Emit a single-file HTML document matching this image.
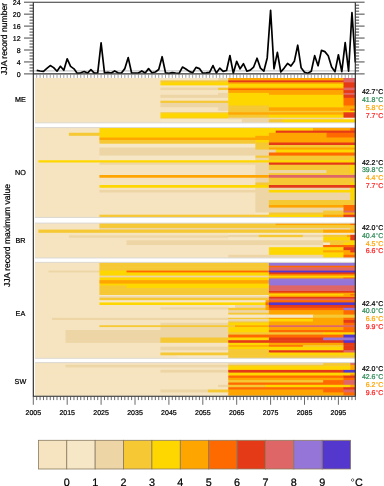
<!DOCTYPE html><html><head><meta charset="utf-8"><style>html,body{margin:0;padding:0;background:#fff;width:384px;height:486px;overflow:hidden}svg{display:block;will-change:transform}text{font-family:"Liberation Sans",sans-serif;text-rendering:geometricPrecision;stroke:#000;stroke-width:0.22px}</style></head><body>
<svg width="384" height="486" viewBox="0 0 384 486">
<rect x="34.99" y="78" width="320.31" height="44.85" fill="#F5E4BF"/>
<rect x="34.99" y="78" width="183.66" height="3" fill="#F5E4BF"/>
<rect x="218.06" y="78" width="10.77" height="3" fill="#EDD5A6"/>
<rect x="228.23" y="78" width="115.86" height="3" fill="#FFA500"/>
<rect x="343.49" y="78" width="11.81" height="3" fill="#DF6666"/>
<rect x="34.99" y="80.4" width="126.03" height="2.5" fill="#F5E4BF"/>
<rect x="160.43" y="80.4" width="68.4" height="2.5" fill="#F5C834"/>
<rect x="228.23" y="80.4" width="115.86" height="2.5" fill="#E53A18"/>
<rect x="343.49" y="80.4" width="11.81" height="2.5" fill="#DF6666"/>
<rect x="34.99" y="82.3" width="126.03" height="2.1" fill="#F5E4BF"/>
<rect x="160.43" y="82.3" width="68.4" height="2.1" fill="#FFD700"/>
<rect x="228.23" y="82.3" width="115.86" height="2.1" fill="#FFA500"/>
<rect x="343.49" y="82.3" width="11.81" height="2.1" fill="#E53A18"/>
<rect x="34.99" y="83.8" width="126.03" height="2.2" fill="#F5E4BF"/>
<rect x="160.43" y="83.8" width="183.66" height="2.2" fill="#FFD700"/>
<rect x="343.49" y="83.8" width="11.81" height="2.2" fill="#E53A18"/>
<rect x="34.99" y="85.4" width="193.83" height="2.8" fill="#F5E4BF"/>
<rect x="228.23" y="85.4" width="115.86" height="2.8" fill="#FFD700"/>
<rect x="343.49" y="85.4" width="11.81" height="2.8" fill="#E53A18"/>
<rect x="34.99" y="87.6" width="126.03" height="1.6" fill="#F5E4BF"/>
<rect x="160.43" y="87.6" width="58.23" height="1.6" fill="#EDD5A6"/>
<rect x="218.06" y="87.6" width="10.77" height="1.6" fill="#F5C834"/>
<rect x="228.23" y="87.6" width="115.86" height="1.6" fill="#FFA500"/>
<rect x="343.49" y="87.6" width="11.81" height="1.6" fill="#DF6666"/>
<rect x="34.99" y="88.6" width="126.03" height="2.1" fill="#F5E4BF"/>
<rect x="160.43" y="88.6" width="58.23" height="2.1" fill="#EDD5A6"/>
<rect x="218.06" y="88.6" width="10.77" height="2.1" fill="#F5C834"/>
<rect x="228.23" y="88.6" width="115.86" height="2.1" fill="#FF6A00"/>
<rect x="343.49" y="88.6" width="11.81" height="2.1" fill="#DF6666"/>
<rect x="34.99" y="90.1" width="193.83" height="3.4" fill="#F5E4BF"/>
<rect x="228.23" y="90.1" width="115.86" height="3.4" fill="#FFA500"/>
<rect x="343.49" y="90.1" width="11.81" height="3.4" fill="#E53A18"/>
<rect x="34.99" y="92.9" width="183.66" height="2.5" fill="#F5E4BF"/>
<rect x="218.06" y="92.9" width="10.77" height="2.5" fill="#EDD5A6"/>
<rect x="228.23" y="92.9" width="41.28" height="2.5" fill="#FFD700"/>
<rect x="268.91" y="92.9" width="75.18" height="2.5" fill="#FFA500"/>
<rect x="343.49" y="92.9" width="11.81" height="2.5" fill="#DF6666"/>
<rect x="34.99" y="94.8" width="126.03" height="3.6" fill="#F5E4BF"/>
<rect x="160.43" y="94.8" width="68.4" height="3.6" fill="#EDD5A6"/>
<rect x="228.23" y="94.8" width="115.86" height="3.6" fill="#FFD700"/>
<rect x="343.49" y="94.8" width="11.81" height="3.6" fill="#E53A18"/>
<rect x="34.99" y="97.8" width="193.83" height="3.5" fill="#F5E4BF"/>
<rect x="228.23" y="97.8" width="115.86" height="3.5" fill="#FFD700"/>
<rect x="343.49" y="97.8" width="11.81" height="3.5" fill="#FF6A00"/>
<rect x="34.99" y="100.7" width="126.03" height="2.8" fill="#F5E4BF"/>
<rect x="160.43" y="100.7" width="68.4" height="2.8" fill="#F5C834"/>
<rect x="228.23" y="100.7" width="115.86" height="2.8" fill="#FFD700"/>
<rect x="343.49" y="100.7" width="11.81" height="2.8" fill="#FF6A00"/>
<rect x="34.99" y="102.9" width="126.03" height="3.2" fill="#F5E4BF"/>
<rect x="160.43" y="102.9" width="68.4" height="3.2" fill="#EDD5A6"/>
<rect x="228.23" y="102.9" width="115.86" height="3.2" fill="#FFD700"/>
<rect x="343.49" y="102.9" width="11.81" height="3.2" fill="#FF6A00"/>
<rect x="34.99" y="105.5" width="126.03" height="2.4" fill="#F5E4BF"/>
<rect x="160.43" y="105.5" width="68.4" height="2.4" fill="#EDD5A6"/>
<rect x="228.23" y="105.5" width="41.28" height="2.4" fill="#F5C834"/>
<rect x="268.91" y="105.5" width="75.18" height="2.4" fill="#FFD700"/>
<rect x="343.49" y="105.5" width="11.81" height="2.4" fill="#FFA500"/>
<rect x="34.99" y="107.3" width="183.66" height="2.1" fill="#F5E4BF"/>
<rect x="218.06" y="107.3" width="10.77" height="2.1" fill="#EDD5A6"/>
<rect x="228.23" y="107.3" width="41.28" height="2.1" fill="#F5C834"/>
<rect x="268.91" y="107.3" width="86.39" height="2.1" fill="#FFA500"/>
<rect x="34.99" y="108.8" width="183.66" height="2.6" fill="#F5E4BF"/>
<rect x="218.06" y="108.8" width="10.77" height="2.6" fill="#EDD5A6"/>
<rect x="228.23" y="108.8" width="41.28" height="2.6" fill="#F5C834"/>
<rect x="268.91" y="108.8" width="81.96" height="2.6" fill="#FFA500"/>
<rect x="350.27" y="108.8" width="5.03" height="2.6" fill="#FF6A00"/>
<rect x="34.99" y="110.8" width="193.83" height="2.1" fill="#F5E4BF"/>
<rect x="228.23" y="110.8" width="115.86" height="2.1" fill="#F5C834"/>
<rect x="343.49" y="110.8" width="11.81" height="2.1" fill="#FFD700"/>
<rect x="34.99" y="112.3" width="126.03" height="1.6" fill="#F5E4BF"/>
<rect x="160.43" y="112.3" width="68.4" height="1.6" fill="#F5C834"/>
<rect x="228.23" y="112.3" width="115.86" height="1.6" fill="#FFA500"/>
<rect x="343.49" y="112.3" width="11.81" height="1.6" fill="#E53A18"/>
<rect x="34.99" y="113.3" width="126.03" height="1.9" fill="#F5E4BF"/>
<rect x="160.43" y="113.3" width="68.4" height="1.9" fill="#FFD700"/>
<rect x="228.23" y="113.3" width="115.86" height="1.9" fill="#FFA500"/>
<rect x="343.49" y="113.3" width="11.81" height="1.9" fill="#E53A18"/>
<rect x="34.99" y="114.6" width="126.03" height="3.7" fill="#F5E4BF"/>
<rect x="160.43" y="114.6" width="68.4" height="3.7" fill="#FFD700"/>
<rect x="228.23" y="114.6" width="41.28" height="3.7" fill="#F5C834"/>
<rect x="268.91" y="114.6" width="75.18" height="3.7" fill="#FFD700"/>
<rect x="343.49" y="114.6" width="11.81" height="3.7" fill="#E53A18"/>
<rect x="34.99" y="117.7" width="126.03" height="1.4" fill="#F5E4BF"/>
<rect x="160.43" y="117.7" width="68.4" height="1.4" fill="#F5C834"/>
<rect x="228.23" y="117.7" width="115.86" height="1.4" fill="#EDD5A6"/>
<rect x="343.49" y="117.7" width="11.81" height="1.4" fill="#F6E8C7"/>
<rect x="34.99" y="118.5" width="193.83" height="1.4" fill="#F5E4BF"/>
<rect x="228.23" y="118.5" width="115.86" height="1.4" fill="#EDD5A6"/>
<rect x="343.49" y="118.5" width="11.81" height="1.4" fill="#F6E8C7"/>
<rect x="34.99" y="119.3" width="126.03" height="3.55" fill="#F5E4BF"/>
<rect x="160.43" y="119.3" width="81.96" height="3.55" fill="#F6E8C7"/>
<rect x="241.79" y="119.3" width="27.72" height="3.55" fill="#EDD5A6"/>
<rect x="268.91" y="119.3" width="14.16" height="3.55" fill="#F5C834"/>
<rect x="282.47" y="119.3" width="72.83" height="3.55" fill="#FFD700"/>
<rect x="34.99" y="127.55" width="320.31" height="89.9" fill="#F5E4BF"/>
<rect x="34.99" y="127.55" width="65.01" height="3.65" fill="#F5E4BF"/>
<rect x="99.41" y="127.55" width="214.17" height="3.65" fill="#FFD700"/>
<rect x="312.98" y="127.55" width="37.89" height="3.65" fill="#FFA500"/>
<rect x="350.27" y="127.55" width="5.03" height="3.65" fill="#FF6A00"/>
<rect x="34.99" y="130.6" width="65.01" height="2.75" fill="#F5E4BF"/>
<rect x="99.41" y="130.6" width="176.88" height="2.75" fill="#FFD700"/>
<rect x="275.69" y="130.6" width="79.62" height="2.75" fill="#E53A18"/>
<rect x="34.99" y="132.75" width="34.5" height="3.65" fill="#F5E4BF"/>
<rect x="68.89" y="132.75" width="31.11" height="3.65" fill="#F5C834"/>
<rect x="99.41" y="132.75" width="170.1" height="3.65" fill="#FFD700"/>
<rect x="268.91" y="132.75" width="58.23" height="3.65" fill="#FFA500"/>
<rect x="326.54" y="132.75" width="28.76" height="3.65" fill="#FF6A00"/>
<rect x="34.99" y="135.8" width="65.01" height="2.3" fill="#F5E4BF"/>
<rect x="99.41" y="135.8" width="156.54" height="2.3" fill="#FFD700"/>
<rect x="255.35" y="135.8" width="71.79" height="2.3" fill="#FFA500"/>
<rect x="326.54" y="135.8" width="28.76" height="2.3" fill="#FF6A00"/>
<rect x="34.99" y="137.5" width="65.01" height="3.1" fill="#F5E4BF"/>
<rect x="99.41" y="137.5" width="255.9" height="3.1" fill="#FFA500"/>
<rect x="34.99" y="140" width="65.01" height="3.1" fill="#F5E4BF"/>
<rect x="99.41" y="140" width="156.54" height="3.1" fill="#F5C834"/>
<rect x="255.35" y="140" width="14.16" height="3.1" fill="#FFD700"/>
<rect x="268.91" y="140" width="86.39" height="3.1" fill="#FFA500"/>
<rect x="34.99" y="142.5" width="65.01" height="1.8" fill="#F5E4BF"/>
<rect x="99.41" y="142.5" width="170.1" height="1.8" fill="#F5C834"/>
<rect x="268.91" y="142.5" width="86.39" height="1.8" fill="#E53A18"/>
<rect x="34.99" y="143.7" width="65.01" height="1.9" fill="#F5E4BF"/>
<rect x="99.41" y="143.7" width="156.54" height="1.9" fill="#F6E8C7"/>
<rect x="255.35" y="143.7" width="14.16" height="1.9" fill="#F5C834"/>
<rect x="268.91" y="143.7" width="86.39" height="1.9" fill="#E53A18"/>
<rect x="34.99" y="145" width="65.01" height="3.1" fill="#F5E4BF"/>
<rect x="99.41" y="145" width="156.54" height="3.1" fill="#F6E8C7"/>
<rect x="255.35" y="145" width="95.52" height="3.1" fill="#F5C834"/>
<rect x="350.27" y="145" width="5.03" height="3.1" fill="#FFD700"/>
<rect x="34.99" y="147.5" width="65.01" height="2.7" fill="#F5E4BF"/>
<rect x="99.41" y="147.5" width="156.54" height="2.7" fill="#EDD5A6"/>
<rect x="255.35" y="147.5" width="14.16" height="2.7" fill="#F5C834"/>
<rect x="268.91" y="147.5" width="86.39" height="2.7" fill="#FFA500"/>
<rect x="34.99" y="149.6" width="65.01" height="3.5" fill="#F5E4BF"/>
<rect x="99.41" y="149.6" width="176.88" height="3.5" fill="#EDD5A6"/>
<rect x="275.69" y="149.6" width="79.62" height="3.5" fill="#FFD700"/>
<rect x="34.99" y="152.5" width="65.01" height="3.7" fill="#F5E4BF"/>
<rect x="99.41" y="152.5" width="170.1" height="3.7" fill="#EDD5A6"/>
<rect x="268.91" y="152.5" width="86.39" height="3.7" fill="#FF6A00"/>
<rect x="34.99" y="155.6" width="65.01" height="2.75" fill="#F5E4BF"/>
<rect x="99.41" y="155.6" width="156.54" height="2.75" fill="#F6E8C7"/>
<rect x="255.35" y="155.6" width="99.95" height="2.75" fill="#F5C834"/>
<rect x="34.99" y="157.75" width="65.01" height="3.1" fill="#F5E4BF"/>
<rect x="99.41" y="157.75" width="156.54" height="3.1" fill="#F6E8C7"/>
<rect x="255.35" y="157.75" width="14.16" height="3.1" fill="#EDD5A6"/>
<rect x="268.91" y="157.75" width="81.96" height="3.1" fill="#F5C834"/>
<rect x="350.27" y="157.75" width="5.03" height="3.1" fill="#FFD700"/>
<rect x="34.99" y="160.25" width="3.99" height="2.85" fill="#F5E4BF"/>
<rect x="38.38" y="160.25" width="316.92" height="2.85" fill="#FFD700"/>
<rect x="34.99" y="162.5" width="65.01" height="2.85" fill="#F5E4BF"/>
<rect x="99.41" y="162.5" width="170.1" height="2.85" fill="#EDD5A6"/>
<rect x="268.91" y="162.5" width="86.39" height="2.85" fill="#E53A18"/>
<rect x="34.99" y="164.75" width="220.95" height="5.85" fill="#F5E4BF"/>
<rect x="255.35" y="164.75" width="14.16" height="5.85" fill="#EDD5A6"/>
<rect x="268.91" y="164.75" width="81.96" height="5.85" fill="#F5C834"/>
<rect x="350.27" y="164.75" width="5.03" height="5.85" fill="#FFD700"/>
<rect x="34.99" y="170" width="220.95" height="3.7" fill="#F5E4BF"/>
<rect x="255.35" y="170" width="71.79" height="3.7" fill="#EDD5A6"/>
<rect x="326.54" y="170" width="24.33" height="3.7" fill="#F5C834"/>
<rect x="350.27" y="170" width="5.03" height="3.7" fill="#FFD700"/>
<rect x="34.99" y="173.1" width="220.95" height="2.5" fill="#F5E4BF"/>
<rect x="255.35" y="173.1" width="14.16" height="2.5" fill="#EDD5A6"/>
<rect x="268.91" y="173.1" width="86.39" height="2.5" fill="#F5C834"/>
<rect x="34.99" y="175" width="65.01" height="3.35" fill="#F5E4BF"/>
<rect x="99.41" y="175" width="170.1" height="3.35" fill="#FFA500"/>
<rect x="268.91" y="175" width="86.39" height="3.35" fill="#DF6666"/>
<rect x="34.99" y="177.75" width="220.95" height="5.35" fill="#F5E4BF"/>
<rect x="255.35" y="177.75" width="14.16" height="5.35" fill="#EDD5A6"/>
<rect x="268.91" y="177.75" width="86.39" height="5.35" fill="#F5C834"/>
<rect x="34.99" y="182.5" width="220.95" height="3.1" fill="#F5E4BF"/>
<rect x="255.35" y="182.5" width="95.52" height="3.1" fill="#F5C834"/>
<rect x="350.27" y="182.5" width="5.03" height="3.1" fill="#FFD700"/>
<rect x="34.99" y="185" width="65.01" height="3.35" fill="#F5E4BF"/>
<rect x="99.41" y="185" width="170.1" height="3.35" fill="#FFD700"/>
<rect x="268.91" y="185" width="86.39" height="3.35" fill="#E53A18"/>
<rect x="34.99" y="187.75" width="220.95" height="2.85" fill="#F5E4BF"/>
<rect x="255.35" y="187.75" width="95.52" height="2.85" fill="#EDD5A6"/>
<rect x="350.27" y="187.75" width="5.03" height="2.85" fill="#FFD700"/>
<rect x="34.99" y="190" width="65.01" height="3.1" fill="#F5E4BF"/>
<rect x="99.41" y="190" width="170.1" height="3.1" fill="#EDD5A6"/>
<rect x="268.91" y="190" width="86.39" height="3.1" fill="#FFD700"/>
<rect x="34.99" y="192.5" width="220.95" height="8.1" fill="#F5E4BF"/>
<rect x="255.35" y="192.5" width="95.52" height="8.1" fill="#EDD5A6"/>
<rect x="350.27" y="192.5" width="5.03" height="8.1" fill="#FFD700"/>
<rect x="34.99" y="200" width="220.95" height="5.6" fill="#F5E4BF"/>
<rect x="255.35" y="200" width="14.16" height="5.6" fill="#EDD5A6"/>
<rect x="268.91" y="200" width="86.39" height="5.6" fill="#F5C834"/>
<rect x="34.99" y="205" width="220.95" height="3.2" fill="#F5E4BF"/>
<rect x="255.35" y="205" width="14.16" height="3.2" fill="#EDD5A6"/>
<rect x="268.91" y="205" width="75.18" height="3.2" fill="#FFA500"/>
<rect x="343.49" y="205" width="11.81" height="3.2" fill="#FF6A00"/>
<rect x="34.99" y="207.6" width="220.95" height="3.6" fill="#F5E4BF"/>
<rect x="255.35" y="207.6" width="88.74" height="3.6" fill="#EDD5A6"/>
<rect x="343.49" y="207.6" width="11.81" height="3.6" fill="#FF6A00"/>
<rect x="34.99" y="210.6" width="220.95" height="2.5" fill="#F5E4BF"/>
<rect x="255.35" y="210.6" width="68.4" height="2.5" fill="#EDD5A6"/>
<rect x="323.15" y="210.6" width="20.94" height="2.5" fill="#F5C834"/>
<rect x="343.49" y="210.6" width="11.81" height="2.5" fill="#DF6666"/>
<rect x="34.99" y="212.5" width="220.95" height="2.8" fill="#F5E4BF"/>
<rect x="255.35" y="212.5" width="14.16" height="2.8" fill="#F6E8C7"/>
<rect x="268.91" y="212.5" width="75.18" height="2.8" fill="#F5C834"/>
<rect x="343.49" y="212.5" width="11.81" height="2.8" fill="#FFA500"/>
<rect x="34.99" y="214.7" width="65.01" height="2.75" fill="#F5E4BF"/>
<rect x="99.41" y="214.7" width="170.1" height="2.75" fill="#F5C834"/>
<rect x="268.91" y="214.7" width="54.84" height="2.75" fill="#FFD700"/>
<rect x="323.15" y="214.7" width="20.94" height="2.75" fill="#FFA500"/>
<rect x="343.49" y="214.7" width="11.81" height="2.75" fill="#E53A18"/>
<rect x="34.99" y="223.1" width="320.31" height="34.85" fill="#F5E4BF"/>
<rect x="34.99" y="223.1" width="65.01" height="2.6" fill="#F5E4BF"/>
<rect x="99.41" y="223.1" width="176.88" height="2.6" fill="#F5C834"/>
<rect x="275.69" y="223.1" width="75.18" height="2.6" fill="#FFA500"/>
<rect x="350.27" y="223.1" width="5.03" height="2.6" fill="#FF6A00"/>
<rect x="34.99" y="225.1" width="65.01" height="3.4" fill="#F5E4BF"/>
<rect x="99.41" y="225.1" width="255.9" height="3.4" fill="#F5C834"/>
<rect x="34.99" y="227.9" width="65.01" height="2.3" fill="#F5E4BF"/>
<rect x="99.41" y="227.9" width="251.46" height="2.3" fill="#EDD5A6"/>
<rect x="350.27" y="227.9" width="5.03" height="2.3" fill="#F5C834"/>
<rect x="34.99" y="229.6" width="3.99" height="3.8" fill="#F5E4BF"/>
<rect x="38.38" y="229.6" width="285.36" height="3.8" fill="#F5C834"/>
<rect x="323.15" y="229.6" width="32.15" height="3.8" fill="#FFA500"/>
<rect x="34.99" y="232.8" width="193.83" height="2.6" fill="#F5E4BF"/>
<rect x="228.23" y="232.8" width="127.07" height="2.6" fill="#F6E8C7"/>
<rect x="34.99" y="234.8" width="193.83" height="1.2" fill="#F5E4BF"/>
<rect x="228.23" y="234.8" width="31.11" height="1.2" fill="#EDD5A6"/>
<rect x="258.74" y="234.8" width="44.67" height="1.2" fill="#F5C834"/>
<rect x="302.81" y="234.8" width="20.94" height="1.2" fill="#EDD5A6"/>
<rect x="323.15" y="234.8" width="24.33" height="1.2" fill="#F5C834"/>
<rect x="346.88" y="234.8" width="3.99" height="1.2" fill="#FFA500"/>
<rect x="350.27" y="234.8" width="5.03" height="1.2" fill="#E53A18"/>
<rect x="34.99" y="235.4" width="34.5" height="2.5" fill="#F5E4BF"/>
<rect x="68.89" y="235.4" width="190.44" height="2.5" fill="#EDD5A6"/>
<rect x="258.74" y="235.4" width="44.67" height="2.5" fill="#F5C834"/>
<rect x="302.81" y="235.4" width="20.94" height="2.5" fill="#EDD5A6"/>
<rect x="323.15" y="235.4" width="24.33" height="2.5" fill="#F5C834"/>
<rect x="346.88" y="235.4" width="3.99" height="2.5" fill="#FFA500"/>
<rect x="350.27" y="235.4" width="5.03" height="2.5" fill="#E53A18"/>
<rect x="34.99" y="237.3" width="34.5" height="1" fill="#F5E4BF"/>
<rect x="68.89" y="237.3" width="159.93" height="1" fill="#EDD5A6"/>
<rect x="228.23" y="237.3" width="95.52" height="1" fill="#F6E8C7"/>
<rect x="323.15" y="237.3" width="27.72" height="1" fill="#FFD700"/>
<rect x="350.27" y="237.3" width="5.03" height="1" fill="#E53A18"/>
<rect x="34.99" y="237.7" width="193.83" height="3.2" fill="#F5E4BF"/>
<rect x="228.23" y="237.7" width="95.52" height="3.2" fill="#F6E8C7"/>
<rect x="323.15" y="237.7" width="27.72" height="3.2" fill="#FFD700"/>
<rect x="350.27" y="237.7" width="5.03" height="3.2" fill="#E53A18"/>
<rect x="34.99" y="240.3" width="92.13" height="2.8" fill="#F5E4BF"/>
<rect x="126.53" y="240.3" width="197.22" height="2.8" fill="#EDD5A6"/>
<rect x="323.15" y="240.3" width="27.72" height="2.8" fill="#F5C834"/>
<rect x="350.27" y="240.3" width="5.03" height="2.8" fill="#FFD700"/>
<rect x="34.99" y="242.5" width="92.13" height="3.1" fill="#F5E4BF"/>
<rect x="126.53" y="242.5" width="197.22" height="3.1" fill="#EDD5A6"/>
<rect x="323.15" y="242.5" width="7.38" height="3.1" fill="#F6E8C7"/>
<rect x="329.93" y="242.5" width="14.16" height="3.1" fill="#F5C834"/>
<rect x="343.49" y="242.5" width="11.81" height="3.1" fill="#FFD700"/>
<rect x="34.99" y="245" width="288.75" height="2.8" fill="#F5E4BF"/>
<rect x="323.15" y="245" width="32.15" height="2.8" fill="#FF6A00"/>
<rect x="34.99" y="247.2" width="234.51" height="3.6" fill="#F5E4BF"/>
<rect x="268.91" y="247.2" width="75.18" height="3.6" fill="#FFD700"/>
<rect x="343.49" y="247.2" width="11.81" height="3.6" fill="#E53A18"/>
<rect x="34.99" y="250.2" width="234.51" height="2.8" fill="#F5E4BF"/>
<rect x="268.91" y="250.2" width="54.84" height="2.8" fill="#FFD700"/>
<rect x="323.15" y="250.2" width="27.72" height="2.8" fill="#FFA500"/>
<rect x="350.27" y="250.2" width="5.03" height="2.8" fill="#E53A18"/>
<rect x="34.99" y="252.4" width="234.51" height="3" fill="#F5E4BF"/>
<rect x="268.91" y="252.4" width="75.18" height="3" fill="#FFD700"/>
<rect x="343.49" y="252.4" width="11.81" height="3" fill="#FFA500"/>
<rect x="34.99" y="254.8" width="193.83" height="3.15" fill="#F5E4BF"/>
<rect x="228.23" y="254.8" width="95.52" height="3.15" fill="#EDD5A6"/>
<rect x="323.15" y="254.8" width="20.94" height="3.15" fill="#FFD700"/>
<rect x="343.49" y="254.8" width="11.81" height="3.15" fill="#FF6A00"/>
<rect x="34.99" y="262.35" width="320.31" height="95.95" fill="#F5E4BF"/>
<rect x="34.99" y="262.35" width="65.01" height="3.95" fill="#F5E4BF"/>
<rect x="99.41" y="262.35" width="170.1" height="3.95" fill="#F5C834"/>
<rect x="268.91" y="262.35" width="86.39" height="3.95" fill="#9575D8"/>
<rect x="34.99" y="265.7" width="65.01" height="2.2" fill="#F5E4BF"/>
<rect x="99.41" y="265.7" width="170.1" height="2.2" fill="#F5C834"/>
<rect x="268.91" y="265.7" width="86.39" height="2.2" fill="#FF6A00"/>
<rect x="34.99" y="267.3" width="65.01" height="3.9" fill="#F5E4BF"/>
<rect x="99.41" y="267.3" width="170.1" height="3.9" fill="#F5C834"/>
<rect x="268.91" y="267.3" width="86.39" height="3.9" fill="#DF6666"/>
<rect x="34.99" y="270.6" width="14.16" height="2.4" fill="#F5E4BF"/>
<rect x="48.55" y="270.6" width="51.45" height="2.4" fill="#EDD5A6"/>
<rect x="99.41" y="270.6" width="27.72" height="2.4" fill="#FFD700"/>
<rect x="126.53" y="270.6" width="142.98" height="2.4" fill="#FF6A00"/>
<rect x="268.91" y="270.6" width="86.39" height="2.4" fill="#5438CE"/>
<rect x="34.99" y="272.4" width="65.01" height="2.1" fill="#F5E4BF"/>
<rect x="99.41" y="272.4" width="170.1" height="2.1" fill="#FFD700"/>
<rect x="268.91" y="272.4" width="86.39" height="2.1" fill="#E53A18"/>
<rect x="34.99" y="273.9" width="65.01" height="1.4" fill="#F5E4BF"/>
<rect x="99.41" y="273.9" width="170.1" height="1.4" fill="#FFD700"/>
<rect x="268.91" y="273.9" width="86.39" height="1.4" fill="#FF6A00"/>
<rect x="34.99" y="274.7" width="65.01" height="1.5" fill="#F5E4BF"/>
<rect x="99.41" y="274.7" width="170.1" height="1.5" fill="#FFD700"/>
<rect x="268.91" y="274.7" width="86.39" height="1.5" fill="#FFA500"/>
<rect x="34.99" y="275.6" width="65.01" height="1" fill="#F5E4BF"/>
<rect x="99.41" y="275.6" width="170.1" height="1" fill="#EDD5A6"/>
<rect x="268.91" y="275.6" width="86.39" height="1" fill="#FFA500"/>
<rect x="34.99" y="276" width="65.01" height="2" fill="#F5E4BF"/>
<rect x="99.41" y="276" width="170.1" height="2" fill="#EDD5A6"/>
<rect x="268.91" y="276" width="86.39" height="2" fill="#FFD700"/>
<rect x="34.99" y="277.4" width="65.01" height="1.7" fill="#F5E4BF"/>
<rect x="99.41" y="277.4" width="170.1" height="1.7" fill="#FFD700"/>
<rect x="268.91" y="277.4" width="75.18" height="1.7" fill="#FFA500"/>
<rect x="343.49" y="277.4" width="11.81" height="1.7" fill="#FF6A00"/>
<rect x="34.99" y="278.5" width="65.01" height="2.2" fill="#F5E4BF"/>
<rect x="99.41" y="278.5" width="170.1" height="2.2" fill="#FFD700"/>
<rect x="268.91" y="278.5" width="86.39" height="2.2" fill="#9575D8"/>
<rect x="34.99" y="280.1" width="65.01" height="4.1" fill="#F5E4BF"/>
<rect x="99.41" y="280.1" width="170.1" height="4.1" fill="#FFA500"/>
<rect x="268.91" y="280.1" width="86.39" height="4.1" fill="#9575D8"/>
<rect x="34.99" y="283.6" width="65.01" height="2.4" fill="#F5E4BF"/>
<rect x="99.41" y="283.6" width="170.1" height="2.4" fill="#FFD700"/>
<rect x="268.91" y="283.6" width="86.39" height="2.4" fill="#9575D8"/>
<rect x="34.99" y="285.4" width="65.01" height="3.1" fill="#F5E4BF"/>
<rect x="99.41" y="285.4" width="27.72" height="3.1" fill="#F5C834"/>
<rect x="126.53" y="285.4" width="142.98" height="3.1" fill="#FFD700"/>
<rect x="268.91" y="285.4" width="86.39" height="3.1" fill="#DF6666"/>
<rect x="34.99" y="287.9" width="65.01" height="3.7" fill="#F5E4BF"/>
<rect x="99.41" y="287.9" width="170.1" height="3.7" fill="#F5C834"/>
<rect x="268.91" y="287.9" width="86.39" height="3.7" fill="#DF6666"/>
<rect x="34.99" y="291" width="65.01" height="2.3" fill="#F5E4BF"/>
<rect x="99.41" y="291" width="170.1" height="2.3" fill="#F5C834"/>
<rect x="268.91" y="291" width="86.39" height="2.3" fill="#E53A18"/>
<rect x="34.99" y="292.7" width="65.01" height="2" fill="#F5E4BF"/>
<rect x="99.41" y="292.7" width="170.1" height="2" fill="#F5C834"/>
<rect x="268.91" y="292.7" width="86.39" height="2" fill="#FFA500"/>
<rect x="34.99" y="294.1" width="65.01" height="1.5" fill="#F5E4BF"/>
<rect x="99.41" y="294.1" width="170.1" height="1.5" fill="#F5C834"/>
<rect x="268.91" y="294.1" width="75.18" height="1.5" fill="#FFD700"/>
<rect x="343.49" y="294.1" width="7.38" height="1.5" fill="#FFA500"/>
<rect x="350.27" y="294.1" width="5.03" height="1.5" fill="#FF6A00"/>
<rect x="34.99" y="295" width="65.01" height="1.1" fill="#F5E4BF"/>
<rect x="99.41" y="295" width="170.1" height="1.1" fill="#F6E8C7"/>
<rect x="268.91" y="295" width="75.18" height="1.1" fill="#FFD700"/>
<rect x="343.49" y="295" width="7.38" height="1.1" fill="#FFA500"/>
<rect x="350.27" y="295" width="5.03" height="1.1" fill="#FF6A00"/>
<rect x="34.99" y="295.5" width="65.01" height="1.5" fill="#F5E4BF"/>
<rect x="99.41" y="295.5" width="170.1" height="1.5" fill="#F6E8C7"/>
<rect x="268.91" y="295.5" width="86.39" height="1.5" fill="#FFA500"/>
<rect x="34.99" y="296.4" width="65.01" height="1.1" fill="#F5E4BF"/>
<rect x="99.41" y="296.4" width="170.1" height="1.1" fill="#EDD5A6"/>
<rect x="268.91" y="296.4" width="86.39" height="1.1" fill="#FFA500"/>
<rect x="34.99" y="296.9" width="65.01" height="1.5" fill="#F5E4BF"/>
<rect x="99.41" y="296.9" width="170.1" height="1.5" fill="#EDD5A6"/>
<rect x="268.91" y="296.9" width="86.39" height="1.5" fill="#E53A18"/>
<rect x="34.99" y="297.8" width="65.01" height="1.3" fill="#F5E4BF"/>
<rect x="99.41" y="297.8" width="170.1" height="1.3" fill="#F5C834"/>
<rect x="268.91" y="297.8" width="86.39" height="1.3" fill="#E53A18"/>
<rect x="34.99" y="298.5" width="65.01" height="2.3" fill="#F5E4BF"/>
<rect x="99.41" y="298.5" width="170.1" height="2.3" fill="#F5C834"/>
<rect x="268.91" y="298.5" width="86.39" height="2.3" fill="#DF6666"/>
<rect x="34.99" y="300.2" width="65.01" height="2.8" fill="#F5E4BF"/>
<rect x="99.41" y="300.2" width="166.71" height="2.8" fill="#F6E8C7"/>
<rect x="265.51" y="300.2" width="3.99" height="2.8" fill="#FFA500"/>
<rect x="268.91" y="300.2" width="86.39" height="2.8" fill="#FF6A00"/>
<rect x="34.99" y="302.4" width="65.01" height="3.2" fill="#F5E4BF"/>
<rect x="99.41" y="302.4" width="166.71" height="3.2" fill="#FFD700"/>
<rect x="265.51" y="302.4" width="3.99" height="3.2" fill="#FF6A00"/>
<rect x="268.91" y="302.4" width="86.39" height="3.2" fill="#5438CE"/>
<rect x="34.99" y="305" width="193.83" height="1.8" fill="#F5E4BF"/>
<rect x="228.23" y="305" width="7.38" height="1.8" fill="#F6E8C7"/>
<rect x="235" y="305" width="31.11" height="1.8" fill="#EDD5A6"/>
<rect x="265.51" y="305" width="3.99" height="1.8" fill="#FFA500"/>
<rect x="268.91" y="305" width="86.39" height="1.8" fill="#E53A18"/>
<rect x="34.99" y="306.2" width="193.83" height="1.9" fill="#F5E4BF"/>
<rect x="228.23" y="306.2" width="7.38" height="1.9" fill="#F6E8C7"/>
<rect x="235" y="306.2" width="31.11" height="1.9" fill="#EDD5A6"/>
<rect x="265.51" y="306.2" width="3.99" height="1.9" fill="#FFA500"/>
<rect x="268.91" y="306.2" width="86.39" height="1.9" fill="#E53A18"/>
<rect x="34.99" y="307.5" width="126.03" height="0.85" fill="#F5E4BF"/>
<rect x="160.43" y="307.5" width="68.4" height="0.85" fill="#EDD5A6"/>
<rect x="228.23" y="307.5" width="7.38" height="0.85" fill="#F6E8C7"/>
<rect x="235" y="307.5" width="31.11" height="0.85" fill="#EDD5A6"/>
<rect x="265.51" y="307.5" width="3.99" height="0.85" fill="#FFA500"/>
<rect x="268.91" y="307.5" width="86.39" height="0.85" fill="#E53A18"/>
<rect x="34.99" y="307.75" width="126.03" height="2.35" fill="#F5E4BF"/>
<rect x="160.43" y="307.75" width="68.4" height="2.35" fill="#EDD5A6"/>
<rect x="228.23" y="307.75" width="37.89" height="2.35" fill="#F5C834"/>
<rect x="265.51" y="307.75" width="3.99" height="2.35" fill="#FFA500"/>
<rect x="268.91" y="307.75" width="75.18" height="2.35" fill="#FF6A00"/>
<rect x="343.49" y="307.75" width="11.81" height="2.35" fill="#9575D8"/>
<rect x="34.99" y="309.5" width="193.83" height="1.3" fill="#F5E4BF"/>
<rect x="228.23" y="309.5" width="37.89" height="1.3" fill="#F5C834"/>
<rect x="265.51" y="309.5" width="3.99" height="1.3" fill="#FFA500"/>
<rect x="268.91" y="309.5" width="75.18" height="1.3" fill="#FF6A00"/>
<rect x="343.49" y="309.5" width="11.81" height="1.3" fill="#9575D8"/>
<rect x="34.99" y="310.2" width="193.83" height="3.15" fill="#F5E4BF"/>
<rect x="228.23" y="310.2" width="41.28" height="3.15" fill="#EDD5A6"/>
<rect x="268.91" y="310.2" width="75.18" height="3.15" fill="#FFA500"/>
<rect x="343.49" y="310.2" width="11.81" height="3.15" fill="#FF6A00"/>
<rect x="34.99" y="312.75" width="193.83" height="2.45" fill="#F5E4BF"/>
<rect x="228.23" y="312.75" width="41.28" height="2.45" fill="#F5C834"/>
<rect x="268.91" y="312.75" width="75.18" height="2.45" fill="#FFA500"/>
<rect x="343.49" y="312.75" width="11.81" height="2.45" fill="#FF6A00"/>
<rect x="34.99" y="314.6" width="193.83" height="3.75" fill="#F5E4BF"/>
<rect x="228.23" y="314.6" width="37.89" height="3.75" fill="#F6E8C7"/>
<rect x="265.51" y="314.6" width="3.99" height="3.75" fill="#F5E4BF"/>
<rect x="268.91" y="314.6" width="44.67" height="3.75" fill="#F6E8C7"/>
<rect x="312.98" y="314.6" width="42.32" height="3.75" fill="#F5C834"/>
<rect x="34.99" y="317.75" width="17.55" height="1.85" fill="#F5E4BF"/>
<rect x="51.94" y="317.75" width="176.88" height="1.85" fill="#EDD5A6"/>
<rect x="228.23" y="317.75" width="41.28" height="1.85" fill="#F5C834"/>
<rect x="268.91" y="317.75" width="75.18" height="1.85" fill="#FFA500"/>
<rect x="343.49" y="317.75" width="11.81" height="1.85" fill="#FF6A00"/>
<rect x="34.99" y="319" width="17.55" height="1.6" fill="#F5E4BF"/>
<rect x="51.94" y="319" width="217.56" height="1.6" fill="#EDD5A6"/>
<rect x="268.91" y="319" width="44.67" height="1.6" fill="#FFD700"/>
<rect x="312.98" y="319" width="31.11" height="1.6" fill="#FFA500"/>
<rect x="343.49" y="319" width="11.81" height="1.6" fill="#FF6A00"/>
<rect x="34.99" y="320" width="193.83" height="2.1" fill="#F5E4BF"/>
<rect x="228.23" y="320" width="41.28" height="2.1" fill="#EDD5A6"/>
<rect x="268.91" y="320" width="44.67" height="2.1" fill="#FFD700"/>
<rect x="312.98" y="320" width="31.11" height="2.1" fill="#FFA500"/>
<rect x="343.49" y="320" width="11.81" height="2.1" fill="#E53A18"/>
<rect x="34.99" y="321.5" width="193.83" height="1.85" fill="#F5E4BF"/>
<rect x="228.23" y="321.5" width="41.28" height="1.85" fill="#F5C834"/>
<rect x="268.91" y="321.5" width="75.18" height="1.85" fill="#FFA500"/>
<rect x="343.49" y="321.5" width="11.81" height="1.85" fill="#E53A18"/>
<rect x="34.99" y="322.75" width="126.03" height="3.1" fill="#F5E4BF"/>
<rect x="160.43" y="322.75" width="68.4" height="3.1" fill="#EDD5A6"/>
<rect x="228.23" y="322.75" width="41.28" height="3.1" fill="#FFD700"/>
<rect x="268.91" y="322.75" width="75.18" height="3.1" fill="#FFA500"/>
<rect x="343.49" y="322.75" width="11.81" height="3.1" fill="#FF6A00"/>
<rect x="34.99" y="325.25" width="65.01" height="2.45" fill="#F5E4BF"/>
<rect x="99.41" y="325.25" width="136.2" height="2.45" fill="#F5C834"/>
<rect x="235" y="325.25" width="34.5" height="2.45" fill="#FFA500"/>
<rect x="268.91" y="325.25" width="86.39" height="2.45" fill="#DF6666"/>
<rect x="34.99" y="327.1" width="126.03" height="3.5" fill="#F5E4BF"/>
<rect x="160.43" y="327.1" width="68.4" height="3.5" fill="#EDD5A6"/>
<rect x="228.23" y="327.1" width="41.28" height="3.5" fill="#FFD700"/>
<rect x="268.91" y="327.1" width="75.18" height="3.5" fill="#FFA500"/>
<rect x="343.49" y="327.1" width="11.81" height="3.5" fill="#FF6A00"/>
<rect x="34.99" y="330" width="31.11" height="2.9" fill="#F5E4BF"/>
<rect x="65.5" y="330" width="163.32" height="2.9" fill="#EDD5A6"/>
<rect x="228.23" y="330" width="41.28" height="2.9" fill="#FFD700"/>
<rect x="268.91" y="330" width="86.39" height="2.9" fill="#FF6A00"/>
<rect x="34.99" y="332.3" width="31.11" height="2.9" fill="#F5E4BF"/>
<rect x="65.5" y="332.3" width="163.32" height="2.9" fill="#EDD5A6"/>
<rect x="228.23" y="332.3" width="95.52" height="2.9" fill="#F5C834"/>
<rect x="323.15" y="332.3" width="32.15" height="2.9" fill="#FFD700"/>
<rect x="34.99" y="334.6" width="31.11" height="3.5" fill="#F5E4BF"/>
<rect x="65.5" y="334.6" width="163.32" height="3.5" fill="#EDD5A6"/>
<rect x="228.23" y="334.6" width="115.86" height="3.5" fill="#FF6A00"/>
<rect x="343.49" y="334.6" width="11.81" height="3.5" fill="#5438CE"/>
<rect x="34.99" y="337.5" width="31.11" height="3.3" fill="#F5E4BF"/>
<rect x="65.5" y="337.5" width="95.52" height="3.3" fill="#EDD5A6"/>
<rect x="160.43" y="337.5" width="68.4" height="3.3" fill="#F5C834"/>
<rect x="228.23" y="337.5" width="41.28" height="3.3" fill="#FFD700"/>
<rect x="268.91" y="337.5" width="54.84" height="3.3" fill="#E53A18"/>
<rect x="323.15" y="337.5" width="32.15" height="3.3" fill="#9575D8"/>
<rect x="34.99" y="340.2" width="31.11" height="3.2" fill="#F5E4BF"/>
<rect x="65.5" y="340.2" width="95.52" height="3.2" fill="#EDD5A6"/>
<rect x="160.43" y="340.2" width="68.4" height="3.2" fill="#F5C834"/>
<rect x="228.23" y="340.2" width="115.86" height="3.2" fill="#E53A18"/>
<rect x="343.49" y="340.2" width="11.81" height="3.2" fill="#5438CE"/>
<rect x="34.99" y="342.8" width="193.83" height="3" fill="#F5E4BF"/>
<rect x="228.23" y="342.8" width="41.28" height="3" fill="#FFD700"/>
<rect x="268.91" y="342.8" width="75.18" height="3" fill="#FFA500"/>
<rect x="343.49" y="342.8" width="11.81" height="3" fill="#E53A18"/>
<rect x="34.99" y="345.2" width="193.83" height="2.1" fill="#F5E4BF"/>
<rect x="228.23" y="345.2" width="41.28" height="2.1" fill="#FFA500"/>
<rect x="268.91" y="345.2" width="34.5" height="2.1" fill="#FF6A00"/>
<rect x="302.81" y="345.2" width="41.28" height="2.1" fill="#F5C834"/>
<rect x="343.49" y="345.2" width="11.81" height="2.1" fill="#E53A18"/>
<rect x="34.99" y="346.7" width="126.03" height="2.9" fill="#F5E4BF"/>
<rect x="160.43" y="346.7" width="68.4" height="2.9" fill="#EDD5A6"/>
<rect x="228.23" y="346.7" width="115.86" height="2.9" fill="#FFD700"/>
<rect x="343.49" y="346.7" width="11.81" height="2.9" fill="#E53A18"/>
<rect x="34.99" y="349" width="126.03" height="1.85" fill="#F5E4BF"/>
<rect x="160.43" y="349" width="68.4" height="1.85" fill="#EDD5A6"/>
<rect x="228.23" y="349" width="41.28" height="1.85" fill="#F5C834"/>
<rect x="268.91" y="349" width="75.18" height="1.85" fill="#FFD700"/>
<rect x="343.49" y="349" width="11.81" height="1.85" fill="#E53A18"/>
<rect x="34.99" y="350.25" width="193.83" height="2.85" fill="#F5E4BF"/>
<rect x="228.23" y="350.25" width="41.28" height="2.85" fill="#F5C834"/>
<rect x="268.91" y="350.25" width="75.18" height="2.85" fill="#E53A18"/>
<rect x="343.49" y="350.25" width="11.81" height="2.85" fill="#DF6666"/>
<rect x="34.99" y="352.5" width="126.03" height="3.4" fill="#F5E4BF"/>
<rect x="160.43" y="352.5" width="109.08" height="3.4" fill="#F5C834"/>
<rect x="268.91" y="352.5" width="86.39" height="3.4" fill="#FFD700"/>
<rect x="34.99" y="355.3" width="142.98" height="3" fill="#F5E4BF"/>
<rect x="177.38" y="355.3" width="51.45" height="3" fill="#F6E8C7"/>
<rect x="228.23" y="355.3" width="127.07" height="3" fill="#F5C834"/>
<rect x="34.99" y="362.6" width="320.31" height="33" fill="#F5E4BF"/>
<rect x="34.99" y="362.6" width="193.83" height="2.8" fill="#F5E4BF"/>
<rect x="228.23" y="362.6" width="95.52" height="2.8" fill="#EDD5A6"/>
<rect x="323.15" y="362.6" width="27.72" height="2.8" fill="#F5C834"/>
<rect x="350.27" y="362.6" width="5.03" height="2.8" fill="#DF6666"/>
<rect x="34.99" y="364.8" width="31.11" height="2" fill="#F5E4BF"/>
<rect x="65.5" y="364.8" width="163.32" height="2" fill="#EDD5A6"/>
<rect x="228.23" y="364.8" width="122.64" height="2" fill="#F5C834"/>
<rect x="350.27" y="364.8" width="5.03" height="2" fill="#FFA500"/>
<rect x="34.99" y="366.2" width="31.11" height="1.8" fill="#F5E4BF"/>
<rect x="65.5" y="366.2" width="163.32" height="1.8" fill="#EDD5A6"/>
<rect x="228.23" y="366.2" width="122.64" height="1.8" fill="#FFD700"/>
<rect x="350.27" y="366.2" width="5.03" height="1.8" fill="#FFA500"/>
<rect x="34.99" y="367.4" width="193.83" height="3.1" fill="#F5E4BF"/>
<rect x="228.23" y="367.4" width="122.64" height="3.1" fill="#FFD700"/>
<rect x="350.27" y="367.4" width="5.03" height="3.1" fill="#FFA500"/>
<rect x="34.99" y="369.9" width="126.03" height="3.3" fill="#F5E4BF"/>
<rect x="160.43" y="369.9" width="68.4" height="3.3" fill="#EDD5A6"/>
<rect x="228.23" y="369.9" width="115.86" height="3.3" fill="#E53A18"/>
<rect x="343.49" y="369.9" width="11.81" height="3.3" fill="#5438CE"/>
<rect x="34.99" y="372.6" width="193.83" height="1.6" fill="#F5E4BF"/>
<rect x="228.23" y="372.6" width="127.07" height="1.6" fill="#FFD700"/>
<rect x="34.99" y="373.6" width="193.83" height="2.5" fill="#F5E4BF"/>
<rect x="228.23" y="373.6" width="122.64" height="2.5" fill="#FFD700"/>
<rect x="350.27" y="373.6" width="5.03" height="2.5" fill="#FFA500"/>
<rect x="34.99" y="375.5" width="193.83" height="2.9" fill="#F5E4BF"/>
<rect x="228.23" y="375.5" width="115.86" height="2.9" fill="#FF6A00"/>
<rect x="343.49" y="375.5" width="11.81" height="2.9" fill="#E53A18"/>
<rect x="34.99" y="377.8" width="193.83" height="2.9" fill="#F5E4BF"/>
<rect x="228.23" y="377.8" width="115.86" height="2.9" fill="#FFA500"/>
<rect x="343.49" y="377.8" width="11.81" height="2.9" fill="#FF6A00"/>
<rect x="34.99" y="380.1" width="193.83" height="3" fill="#F5E4BF"/>
<rect x="228.23" y="380.1" width="95.52" height="3" fill="#F5C834"/>
<rect x="323.15" y="380.1" width="20.94" height="3" fill="#FF6A00"/>
<rect x="343.49" y="380.1" width="11.81" height="3" fill="#DF6666"/>
<rect x="34.99" y="382.5" width="193.83" height="2.9" fill="#F5E4BF"/>
<rect x="228.23" y="382.5" width="115.86" height="2.9" fill="#FF6A00"/>
<rect x="343.49" y="382.5" width="11.81" height="2.9" fill="#DF6666"/>
<rect x="34.99" y="384.8" width="183.66" height="3" fill="#F5E4BF"/>
<rect x="218.06" y="384.8" width="10.77" height="3" fill="#EDD5A6"/>
<rect x="228.23" y="384.8" width="37.89" height="3" fill="#F5C834"/>
<rect x="265.51" y="384.8" width="85.35" height="3" fill="#FFD700"/>
<rect x="350.27" y="384.8" width="5.03" height="3" fill="#FFA500"/>
<rect x="34.99" y="387.2" width="193.83" height="2.9" fill="#F5E4BF"/>
<rect x="228.23" y="387.2" width="115.86" height="2.9" fill="#FF6A00"/>
<rect x="343.49" y="387.2" width="11.81" height="2.9" fill="#E53A18"/>
<rect x="34.99" y="389.5" width="126.03" height="3.5" fill="#F5E4BF"/>
<rect x="160.43" y="389.5" width="48.06" height="3.5" fill="#EDD5A6"/>
<rect x="207.88" y="389.5" width="20.94" height="3.5" fill="#F5C834"/>
<rect x="228.23" y="389.5" width="95.52" height="3.5" fill="#FFA500"/>
<rect x="323.15" y="389.5" width="20.94" height="3.5" fill="#FF6A00"/>
<rect x="343.49" y="389.5" width="11.81" height="3.5" fill="#DF6666"/>
<rect x="34.99" y="392.4" width="193.83" height="3.2" fill="#F5E4BF"/>
<rect x="228.23" y="392.4" width="115.86" height="3.2" fill="#FFA500"/>
<rect x="343.49" y="392.4" width="11.81" height="3.2" fill="#FF6A00"/>
<rect x="34.99" y="122.35" width="320.31" height="1" fill="#dcdad4"/>
<rect x="34.99" y="127.05" width="320.31" height="1" fill="#dcdad4"/>
<rect x="34.99" y="216.95" width="320.31" height="1" fill="#dcdad4"/>
<rect x="34.99" y="222.6" width="320.31" height="1" fill="#dcdad4"/>
<rect x="34.99" y="257.45" width="320.31" height="1" fill="#dcdad4"/>
<rect x="34.99" y="261.85" width="320.31" height="1" fill="#dcdad4"/>
<rect x="34.99" y="357.8" width="320.31" height="1" fill="#dcdad4"/>
<rect x="34.99" y="362.1" width="320.31" height="1" fill="#dcdad4"/>
<line x1="33.3" y1="70.91" x2="355.3" y2="70.91" stroke="#c8c8c8" stroke-width="1.3"/>
<polyline points="36.69,70.32 40.08,71 43.47,71.39 46.86,68.4 50.25,65.59 53.64,67.63 57.03,71.21 60.42,66.31 63.81,70.32 67.2,58.81 70.59,66.43 73.98,68.82 77.37,73.39 80.76,72.79 84.15,71.51 87.54,73.09 90.93,69.6 94.32,73.09 97.71,72.79 101.1,42.83 104.49,72.79 107.88,72.32 111.27,73 114.66,70.91 118.05,72.79 121.44,73 124.83,68.61 128.22,57.62 131.61,73 135,73 138.39,73 141.78,70.91 145.17,73 148.56,68.61 151.95,72.79 155.34,72.02 158.73,69.51 162.12,56.72 165.51,72.79 168.9,73.45 172.29,72.62 175.68,73 179.07,73.3 182.46,67.03 185.85,69.03 189.24,71.39 192.63,72.79 196.02,67.42 199.41,68.61 202.8,73.15 206.19,72.79 209.58,72.32 212.97,65.54 216.36,73 219.75,68.13 223.14,71.39 226.53,70.49 229.92,55.53 233.31,73.3 236.7,61.35 240.09,68.82 243.48,63.74 246.87,71.21 250.26,70.11 253.65,67.03 257.04,58.22 260.43,68.1 263.82,71.21 267.21,57.92 270.6,10.27 273.99,68.82 277.38,52.39 280.77,71.99 284.16,68.1 287.55,63.44 290.94,66.01 294.33,61.35 297.72,45.22 301.11,67.63 304.5,72.29 307.89,73.21 311.28,71.21 314.67,55.68 318.06,65.71 321.45,50.42 324.84,51.64 328.23,55.68 331.62,67.03 335.01,71.69 338.4,54.78 341.79,71.69 345.18,42.53 348.57,71.21 351.96,12.66 355.35,62.55" fill="none" stroke="#000" stroke-width="1.7" stroke-linejoin="round"/>
<path d="M33.3 2.2H355.3M33.3 73.9H355.3" stroke="#333" stroke-width="1.1" fill="none"/>
<line x1="33.3" y1="2.2" x2="33.3" y2="396.85" stroke="#222" stroke-width="1.1"/>
<line x1="355.3" y1="2.2" x2="355.3" y2="396.85" stroke="#222" stroke-width="1.1"/>
<path d="M24 73.9H33.3M355.3 73.9H364.6M29.5 70.91H33.3M355.3 70.91H359.1M29.5 67.93H33.3M355.3 67.93H359.1M29.5 64.94H33.3M355.3 64.94H359.1M24 61.95H33.3M355.3 61.95H364.6M29.5 58.96H33.3M355.3 58.96H359.1M29.5 55.98H33.3M355.3 55.98H359.1M29.5 52.99H33.3M355.3 52.99H359.1M24 50H33.3M355.3 50H364.6M29.5 47.01H33.3M355.3 47.01H359.1M29.5 44.03H33.3M355.3 44.03H359.1M29.5 41.04H33.3M355.3 41.04H359.1M24 38.05H33.3M355.3 38.05H364.6M29.5 35.06H33.3M355.3 35.06H359.1M29.5 32.08H33.3M355.3 32.08H359.1M29.5 29.09H33.3M355.3 29.09H359.1M24 26.1H33.3M355.3 26.1H364.6M29.5 23.11H33.3M355.3 23.11H359.1M29.5 20.13H33.3M355.3 20.13H359.1M29.5 17.14H33.3M355.3 17.14H359.1M24 14.15H33.3M355.3 14.15H364.6M29.5 11.16H33.3M355.3 11.16H359.1M29.5 8.18H33.3M355.3 8.18H359.1M29.5 5.19H33.3M355.3 5.19H359.1M24 2.2H33.3M355.3 2.2H364.6" stroke="#333" stroke-width="0.9" fill="none"/>
<text x="20.6" y="76.9" font-size="7" text-anchor="end">0</text>
<text x="20.6" y="64.95" font-size="7" text-anchor="end">4</text>
<text x="20.6" y="53" font-size="7" text-anchor="end">8</text>
<text x="20.6" y="41.05" font-size="7" text-anchor="end">12</text>
<text x="20.6" y="29.1" font-size="7" text-anchor="end">16</text>
<text x="20.6" y="17.15" font-size="7" text-anchor="end">20</text>
<text x="20.6" y="5.2" font-size="7" text-anchor="end">24</text>
<path d="M36.69 74.4V77.9M40.08 74.4V77.9M43.47 74.4V77.9M46.86 74.4V77.9M50.25 74.4V77.9M53.64 74.4V77.9M57.03 74.4V77.9M60.42 74.4V77.9M63.81 74.4V77.9M67.2 74.4V77.9M70.59 74.4V77.9M73.98 74.4V77.9M77.37 74.4V77.9M80.76 74.4V77.9M84.15 74.4V77.9M87.54 74.4V77.9M90.93 74.4V77.9M94.32 74.4V77.9M97.71 74.4V77.9M101.1 74.4V77.9M104.49 74.4V77.9M107.88 74.4V77.9M111.27 74.4V77.9M114.66 74.4V77.9M118.05 74.4V77.9M121.44 74.4V77.9M124.83 74.4V77.9M128.22 74.4V77.9M131.61 74.4V77.9M135 74.4V77.9M138.39 74.4V77.9M141.78 74.4V77.9M145.17 74.4V77.9M148.56 74.4V77.9M151.95 74.4V77.9M155.34 74.4V77.9M158.73 74.4V77.9M162.12 74.4V77.9M165.51 74.4V77.9M168.9 74.4V77.9M172.29 74.4V77.9M175.68 74.4V77.9M179.07 74.4V77.9M182.46 74.4V77.9M185.85 74.4V77.9M189.24 74.4V77.9M192.63 74.4V77.9M196.02 74.4V77.9M199.41 74.4V77.9M202.8 74.4V77.9M206.19 74.4V77.9M209.58 74.4V77.9M212.97 74.4V77.9M216.36 74.4V77.9M219.75 74.4V77.9M223.14 74.4V77.9M226.53 74.4V77.9M229.92 74.4V77.9M233.31 74.4V77.9M236.7 74.4V77.9M240.09 74.4V77.9M243.48 74.4V77.9M246.87 74.4V77.9M250.26 74.4V77.9M253.65 74.4V77.9M257.04 74.4V77.9M260.43 74.4V77.9M263.82 74.4V77.9M267.21 74.4V77.9M270.6 74.4V77.9M273.99 74.4V77.9M277.38 74.4V77.9M280.77 74.4V77.9M284.16 74.4V77.9M287.55 74.4V77.9M290.94 74.4V77.9M294.33 74.4V77.9M297.72 74.4V77.9M301.11 74.4V77.9M304.5 74.4V77.9M307.89 74.4V77.9M311.28 74.4V77.9M314.67 74.4V77.9M318.06 74.4V77.9M321.45 74.4V77.9M324.84 74.4V77.9M328.23 74.4V77.9M331.62 74.4V77.9M335.01 74.4V77.9M338.4 74.4V77.9M341.79 74.4V77.9M345.18 74.4V77.9M348.57 74.4V77.9M351.96 74.4V77.9" stroke="#777" stroke-width="0.7" fill="none"/>
<line x1="33.3" y1="396.3" x2="355.3" y2="396.3" stroke="#222" stroke-width="1.1"/>
<path d="M33.3 396.3V404.8M36.69 396.3V400.1M40.08 396.3V400.1M43.47 396.3V400.1M46.86 396.3V400.1M50.25 396.3V400.1M53.64 396.3V400.1M57.03 396.3V400.1M60.42 396.3V400.1M63.81 396.3V400.1M67.2 396.3V404.8M70.59 396.3V400.1M73.98 396.3V400.1M77.37 396.3V400.1M80.76 396.3V400.1M84.15 396.3V400.1M87.54 396.3V400.1M90.93 396.3V400.1M94.32 396.3V400.1M97.71 396.3V400.1M101.1 396.3V404.8M104.49 396.3V400.1M107.88 396.3V400.1M111.27 396.3V400.1M114.66 396.3V400.1M118.05 396.3V400.1M121.44 396.3V400.1M124.83 396.3V400.1M128.22 396.3V400.1M131.61 396.3V400.1M135 396.3V404.8M138.39 396.3V400.1M141.78 396.3V400.1M145.17 396.3V400.1M148.56 396.3V400.1M151.95 396.3V400.1M155.34 396.3V400.1M158.73 396.3V400.1M162.12 396.3V400.1M165.51 396.3V400.1M168.9 396.3V404.8M172.29 396.3V400.1M175.68 396.3V400.1M179.07 396.3V400.1M182.46 396.3V400.1M185.85 396.3V400.1M189.24 396.3V400.1M192.63 396.3V400.1M196.02 396.3V400.1M199.41 396.3V400.1M202.8 396.3V404.8M206.19 396.3V400.1M209.58 396.3V400.1M212.97 396.3V400.1M216.36 396.3V400.1M219.75 396.3V400.1M223.14 396.3V400.1M226.53 396.3V400.1M229.92 396.3V400.1M233.31 396.3V400.1M236.7 396.3V404.8M240.09 396.3V400.1M243.48 396.3V400.1M246.87 396.3V400.1M250.26 396.3V400.1M253.65 396.3V400.1M257.04 396.3V400.1M260.43 396.3V400.1M263.82 396.3V400.1M267.21 396.3V400.1M270.6 396.3V404.8M273.99 396.3V400.1M277.38 396.3V400.1M280.77 396.3V400.1M284.16 396.3V400.1M287.55 396.3V400.1M290.94 396.3V400.1M294.33 396.3V400.1M297.72 396.3V400.1M301.11 396.3V400.1M304.5 396.3V404.8M307.89 396.3V400.1M311.28 396.3V400.1M314.67 396.3V400.1M318.06 396.3V400.1M321.45 396.3V400.1M324.84 396.3V400.1M328.23 396.3V400.1M331.62 396.3V400.1M335.01 396.3V400.1M338.4 396.3V404.8M341.79 396.3V400.1M345.18 396.3V400.1M348.57 396.3V400.1M351.96 396.3V400.1M355.35 396.3V400.1" stroke="#444" stroke-width="0.8" fill="none"/>
<text x="33.3" y="414.6" font-size="7" text-anchor="middle">2005</text>
<text x="67.2" y="414.6" font-size="7" text-anchor="middle">2015</text>
<text x="101.1" y="414.6" font-size="7" text-anchor="middle">2025</text>
<text x="135" y="414.6" font-size="7" text-anchor="middle">2035</text>
<text x="168.9" y="414.6" font-size="7" text-anchor="middle">2045</text>
<text x="202.8" y="414.6" font-size="7" text-anchor="middle">2055</text>
<text x="236.7" y="414.6" font-size="7" text-anchor="middle">2065</text>
<text x="270.6" y="414.6" font-size="7" text-anchor="middle">2075</text>
<text x="304.5" y="414.6" font-size="7" text-anchor="middle">2085</text>
<text x="338.4" y="414.6" font-size="7" text-anchor="middle">2095</text>
<text x="20.4" y="101.9" font-size="7.2" text-anchor="middle">ME</text>
<text x="20.4" y="174.8" font-size="7.2" text-anchor="middle">NO</text>
<text x="20.4" y="242.6" font-size="7.2" text-anchor="middle">BR</text>
<text x="20.4" y="315.7" font-size="7.2" text-anchor="middle">EA</text>
<text x="20.4" y="383.6" font-size="7.2" text-anchor="middle">SW</text>
<text x="383.4" y="94.2" font-size="7" text-anchor="end" fill="#000" style="stroke:#000">42.7<tspan style="stroke:none">°</tspan>C</text>
<text x="383.4" y="102" font-size="7" text-anchor="end" fill="#2E8B57" style="stroke:#2E8B57">41.8<tspan style="stroke:none">°</tspan>C</text>
<text x="383.4" y="109.8" font-size="7" text-anchor="end" fill="#FFA500" style="stroke:#FFA500">5.8<tspan style="stroke:none">°</tspan>C</text>
<text x="383.4" y="117.6" font-size="7" text-anchor="end" fill="#FF2020" style="stroke:#FF2020">7.7<tspan style="stroke:none">°</tspan>C</text>
<text x="383.4" y="164.5" font-size="7" text-anchor="end" fill="#000" style="stroke:#000">42.2<tspan style="stroke:none">°</tspan>C</text>
<text x="383.4" y="172.3" font-size="7" text-anchor="end" fill="#2E8B57" style="stroke:#2E8B57">39.8<tspan style="stroke:none">°</tspan>C</text>
<text x="383.4" y="180.1" font-size="7" text-anchor="end" fill="#FFA500" style="stroke:#FFA500">4.4<tspan style="stroke:none">°</tspan>C</text>
<text x="383.4" y="187.9" font-size="7" text-anchor="end" fill="#FF2020" style="stroke:#FF2020">7.7<tspan style="stroke:none">°</tspan>C</text>
<text x="383.4" y="230" font-size="7" text-anchor="end" fill="#000" style="stroke:#000">42.0<tspan style="stroke:none">°</tspan>C</text>
<text x="383.4" y="237.8" font-size="7" text-anchor="end" fill="#2E8B57" style="stroke:#2E8B57">40.4<tspan style="stroke:none">°</tspan>C</text>
<text x="383.4" y="245.6" font-size="7" text-anchor="end" fill="#FFA500" style="stroke:#FFA500">4.5<tspan style="stroke:none">°</tspan>C</text>
<text x="383.4" y="253.4" font-size="7" text-anchor="end" fill="#FF2020" style="stroke:#FF2020">6.6<tspan style="stroke:none">°</tspan>C</text>
<text x="383.4" y="305.5" font-size="7" text-anchor="end" fill="#000" style="stroke:#000">42.4<tspan style="stroke:none">°</tspan>C</text>
<text x="383.4" y="313.3" font-size="7" text-anchor="end" fill="#2E8B57" style="stroke:#2E8B57">40.0<tspan style="stroke:none">°</tspan>C</text>
<text x="383.4" y="321.1" font-size="7" text-anchor="end" fill="#FFA500" style="stroke:#FFA500">6.6<tspan style="stroke:none">°</tspan>C</text>
<text x="383.4" y="328.9" font-size="7" text-anchor="end" fill="#FF2020" style="stroke:#FF2020">9.9<tspan style="stroke:none">°</tspan>C</text>
<text x="383.4" y="371.1" font-size="7" text-anchor="end" fill="#000" style="stroke:#000">42.0<tspan style="stroke:none">°</tspan>C</text>
<text x="383.4" y="378.9" font-size="7" text-anchor="end" fill="#2E8B57" style="stroke:#2E8B57">42.6<tspan style="stroke:none">°</tspan>C</text>
<text x="383.4" y="386.7" font-size="7" text-anchor="end" fill="#FFA500" style="stroke:#FFA500">6.2<tspan style="stroke:none">°</tspan>C</text>
<text x="383.4" y="394.5" font-size="7" text-anchor="end" fill="#FF2020" style="stroke:#FF2020">9.6<tspan style="stroke:none">°</tspan>C</text>
<text transform="translate(6.8,38.9) rotate(-90)" font-size="8.6" text-anchor="middle">JJA record number</text>
<text transform="translate(9.9,235.5) rotate(-90)" font-size="8.6" text-anchor="middle">JJA record maximum value</text>
<rect x="38.4" y="440.3" width="28.38" height="28.7" fill="#F5E4BF" stroke="#8a7a60" stroke-width="0.8"/>
<rect x="66.78" y="440.3" width="28.38" height="28.7" fill="#F6E8C7" stroke="#8a7a60" stroke-width="0.8"/>
<rect x="95.16" y="440.3" width="28.38" height="28.7" fill="#EDD5A6" stroke="#8a7a60" stroke-width="0.8"/>
<rect x="123.54" y="440.3" width="28.38" height="28.7" fill="#F5C834" stroke="#8a7a60" stroke-width="0.8"/>
<rect x="151.92" y="440.3" width="28.38" height="28.7" fill="#FFD700" stroke="#8a7a60" stroke-width="0.8"/>
<rect x="180.3" y="440.3" width="28.38" height="28.7" fill="#FFA500" stroke="#8a7a60" stroke-width="0.8"/>
<rect x="208.68" y="440.3" width="28.38" height="28.7" fill="#FF6A00" stroke="#8a7a60" stroke-width="0.8"/>
<rect x="237.06" y="440.3" width="28.38" height="28.7" fill="#E53A18" stroke="#8a7a60" stroke-width="0.8"/>
<rect x="265.44" y="440.3" width="28.38" height="28.7" fill="#DF6666" stroke="#8a7a60" stroke-width="0.8"/>
<rect x="293.82" y="440.3" width="28.38" height="28.7" fill="#9575D8" stroke="#8a7a60" stroke-width="0.8"/>
<rect x="322.2" y="440.3" width="28.38" height="28.7" fill="#5438CE" stroke="#8a7a60" stroke-width="0.8"/>
<text x="66.78" y="486.3" font-size="10.8" text-anchor="middle">0</text>
<text x="95.16" y="486.3" font-size="10.8" text-anchor="middle">1</text>
<text x="123.54" y="486.3" font-size="10.8" text-anchor="middle">2</text>
<text x="151.92" y="486.3" font-size="10.8" text-anchor="middle">3</text>
<text x="180.3" y="486.3" font-size="10.8" text-anchor="middle">4</text>
<text x="208.68" y="486.3" font-size="10.8" text-anchor="middle">5</text>
<text x="237.06" y="486.3" font-size="10.8" text-anchor="middle">6</text>
<text x="265.44" y="486.3" font-size="10.8" text-anchor="middle">7</text>
<text x="293.82" y="486.3" font-size="10.8" text-anchor="middle">8</text>
<text x="322.2" y="486.3" font-size="10.8" text-anchor="middle">9</text>
<text x="350.6" y="486.3" font-size="10.8"><tspan style="stroke:none">°</tspan>C</text>
</svg></body></html>
